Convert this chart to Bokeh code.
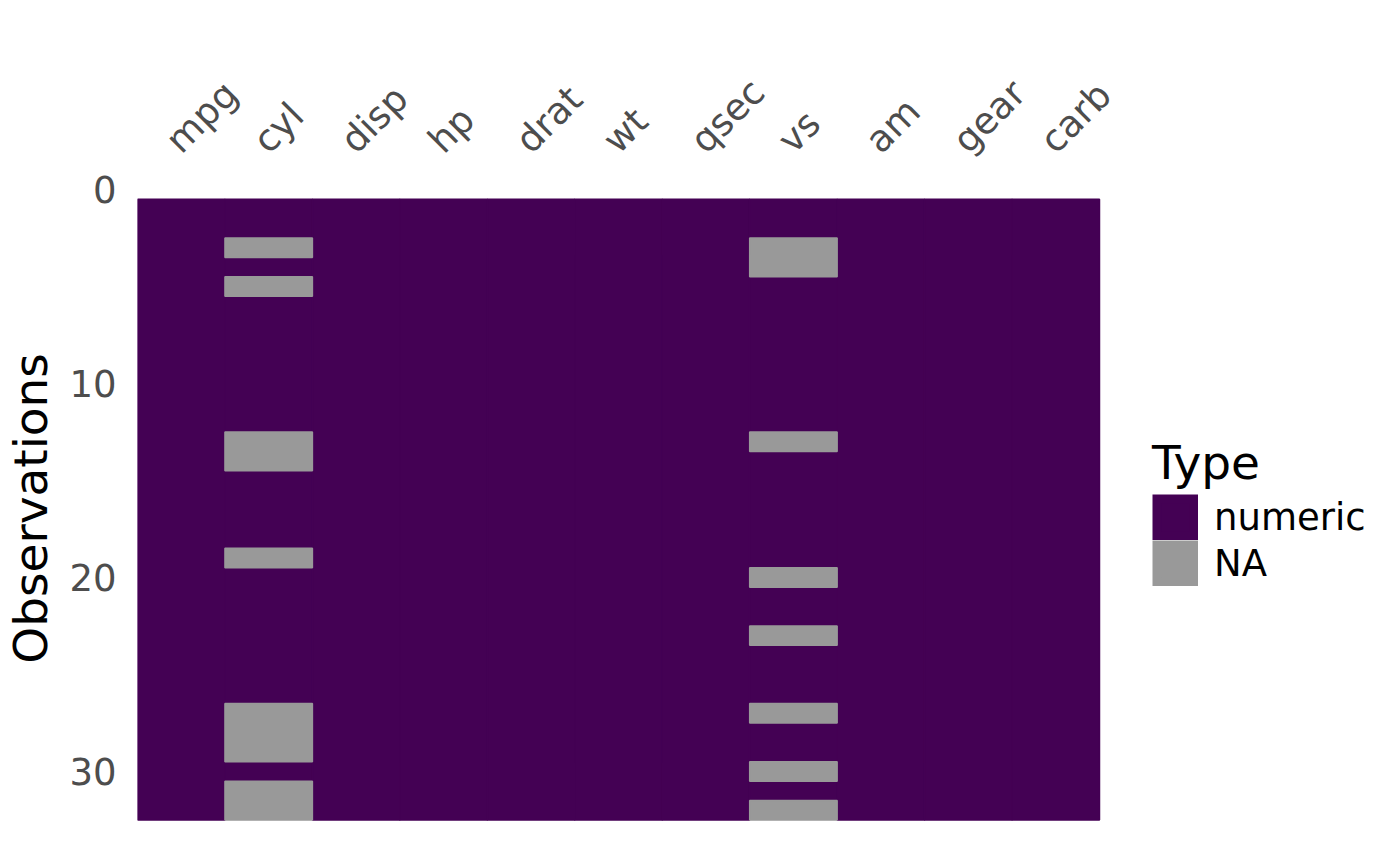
import math
from bokeh.plotting import figure
from bokeh.models import Range1d, FixedTicker, Legend, LegendItem, ColumnDataSource
from bokeh.embed import file_html
from bokeh.resources import INLINE

columns = ["mpg", "cyl", "disp", "hp", "drat", "wt", "qsec", "vs", "am", "gear", "carb"]
n_rows = 32
na_rows_cyl = [3, 5, 13, 14, 19, 27, 28, 29, 31, 32]
na_rows_vs = [3, 4, 13, 20, 23, 27, 30, 32]
type_labels = ["numeric", "NA"]
type_colors = ["#440154", "#999999"]
y_ticks = [0, 10, 20, 30]

na_rows = {c: [] for c in columns}
na_rows["cyl"] = na_rows_cyl
na_rows["vs"] = na_rows_vs

# group consecutive rows of the same type within each column
runs = {t: dict(x=[], top=[], bottom=[]) for t in type_labels}
for ci, c in enumerate(columns):
    types = ["NA" if r in na_rows[c] else "numeric" for r in range(1, n_rows + 1)]
    start = 1
    for r in range(2, n_rows + 2):
        if r == n_rows + 1 or types[r - 1] != types[start - 1]:
            t = types[start - 1]
            runs[t]["x"].append(ci)
            runs[t]["bottom"].append(start - 0.5)
            runs[t]["top"].append(r - 1 + 0.5)
            start = r

COL_PX = 87.4545          # pixel width of one column
FRAME_W = 1240
n_cols = len(columns)
x_start = -0.5
x_end = x_start + FRAME_W / COL_PX   # frame extends right to host the legend
LABEL_SHIFT = -0.1        # rotated labels start a little left of column centre (as in ggplot)

p = figure(frame_width=FRAME_W, frame_height=650,
           x_range=Range1d(x_start, x_end), y_range=Range1d(33.2, -0.31),
           x_axis_location="above", output_backend="svg", toolbar_location=None,
           min_border_left=130, min_border_top=183, min_border_bottom=17,
           min_border_right=10)
p.outline_line_color = None
p.xgrid.visible = False
p.ygrid.visible = False
p.background_fill_color = "white"
p.border_fill_color = "white"

legend_renderers = []
for t, col in zip(type_labels, type_colors):
    src = ColumnDataSource(runs[t])
    p.vbar(x="x", top="top", bottom="bottom", width=1.0, source=src,
           fill_color=col, line_color=col, line_width=1.5)
    # hidden renderer used only for the legend key; thick outline fills the key box
    kr = p.vbar(x="x", top="top", bottom="bottom", width=1.0, source=src,
                fill_color=col, line_color=col, line_width=9.2, line_join="miter",
                visible=False)
    legend_renderers.append(kr)

FONT = "DejaVu Sans"
tick_pos = [round(i + LABEL_SHIFT, 2) for i in range(n_cols)]
xa = p.xaxis[0]
xa.ticker = FixedTicker(ticks=tick_pos)
xa.major_label_overrides = {tp: c for tp, c in zip(tick_pos, columns)}
xa.major_label_orientation = math.pi / 4
xa.major_label_text_font = FONT
xa.major_label_text_font_size = "37px"
xa.major_label_text_color = "#4d4d4d"
xa.major_tick_line_color = None
xa.minor_tick_line_color = None
xa.axis_line_color = None
xa.major_label_standoff = 31

ya = p.yaxis[0]
ya.ticker = FixedTicker(ticks=y_ticks)
ya.major_label_text_font = FONT
ya.major_label_text_font_size = "37px"
ya.major_label_text_color = "#4d4d4d"
ya.major_tick_line_color = None
ya.minor_tick_line_color = None
ya.axis_line_color = None
ya.major_label_standoff = 15
ya.axis_label = "Observations"
ya.axis_label_text_font = FONT
ya.axis_label_text_font_size = "47px"
ya.axis_label_text_font_style = "normal"
ya.axis_label_text_color = "black"
ya.axis_label_standoff = 8

legend = Legend(items=[LegendItem(label=t, renderers=[r]) for t, r in zip(type_labels, legend_renderers)],
                title="Type", location=(1015, 247), orientation="vertical",
                glyph_width=46, glyph_height=46, spacing=0, padding=0, margin=0,
                label_standoff=16, label_text_font=FONT, label_text_font_size="37px",
                label_text_color="black", title_text_font=FONT, title_text_font_size="47px",
                title_text_font_style="normal", title_text_color="black", title_standoff=4,
                border_line_color=None, background_fill_alpha=0, inactive_fill_alpha=0)
p.add_layout(legend)

open("out.html", "w").write(file_html(p, INLINE))
